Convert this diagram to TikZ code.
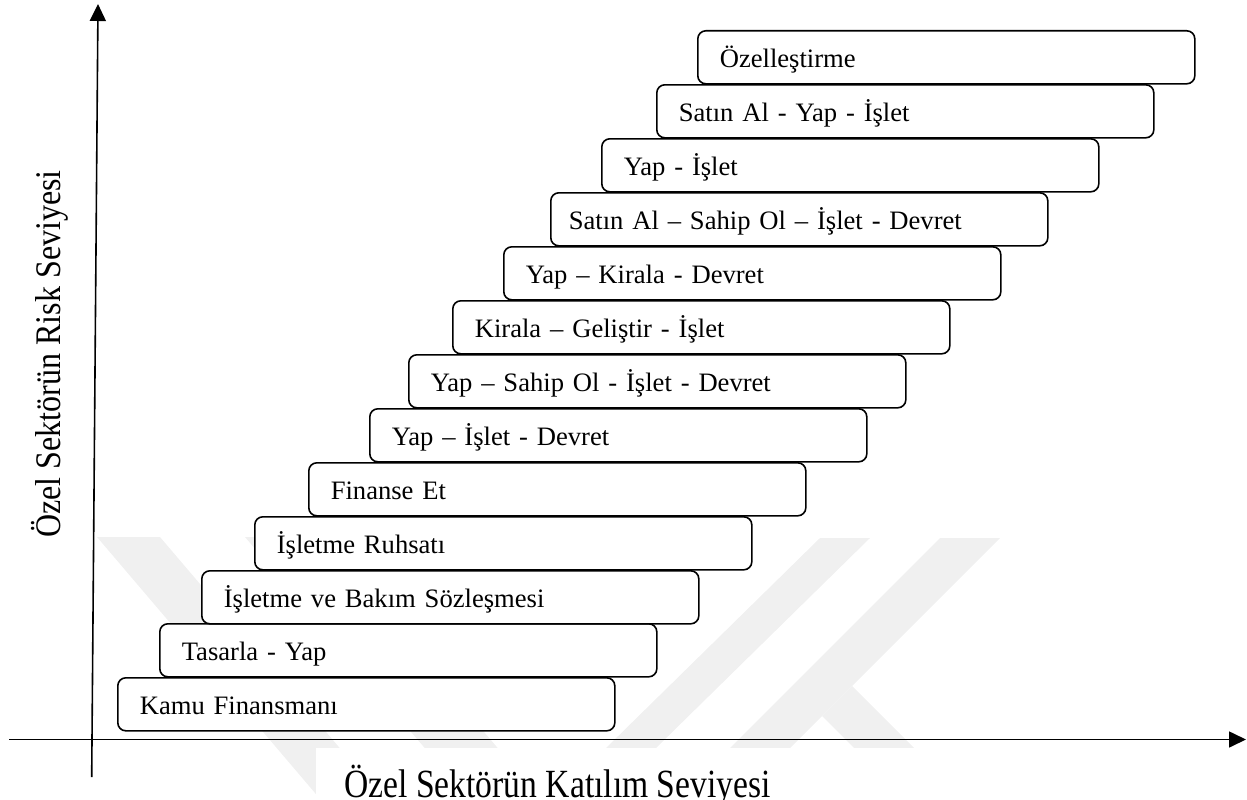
\documentclass[tikz,border=0pt]{standalone}
\usepackage{fontspec}
\setmainfont{Liberation Serif}
\usepackage{graphicx}
\usetikzlibrary{arrows.meta}
\begin{document}
\begin{tikzpicture}[x=1pt,y=-1pt,
  stepbox/.style={draw, line width=1.6pt, rounded corners=8pt, fill=white,
    anchor=north west, minimum width=497pt, minimum height=53pt,
    text width=453pt, inner xsep=22pt, inner ysep=0pt, align=left,
    text height=25pt, text depth=5pt, font=\fontsize{26.6}{30}\selectfont},
  axisline/.style={line width=1.6pt, -{Triangle[length=17pt,width=16pt]}},
  wm/.style={fill=black!6, draw=none}]
\useasboundingbox (0,0) rectangle (1247,800);
% faint watermark
\fill[wm] (97,537) -- (160,537) -- (384,800) -- (321,800) -- cycle;
\fill[wm] (245,537) -- (318,537) -- (542,800) -- (469,800) -- cycle;
\fill[wm] (820,538) -- (870,538) -- (656,748) -- (606,748) -- cycle;
\fill[wm] (940,538) -- (1000,538) -- (790,748) -- (730,748) -- cycle;
\fill[wm] (822,716) -- (852,686) -- (914,748) -- (854,748) -- cycle;
\fill[white] (316,748) rectangle (1247,800);
% boxes
\node[stepbox] (b1)  at (117,677) {Kamu Finansmanı};
\node[stepbox] (b2)  at (159,623) {Tasarla - Yap};
\node[stepbox] (b3)  at (201,570) {İşletme ve Bakım Sözleşmesi};
\node[stepbox] (b4)  at (254,516) {İşletme Ruhsatı};
\node[stepbox] (b5)  at (308,462) {Finanse Et};
\node[stepbox] (b6)  at (369,408) {Yap – İşlet - Devret};
\node[stepbox] (b7)  at (408,354) {Yap – Sahip Ol - İşlet - Devret};
\node[stepbox] (b8)  at (452,300) {Kirala – Geliştir - İşlet};
\node[stepbox] (b9)  at (503,246) {Yap – Kirala - Devret};
\node[stepbox, inner xsep=18pt, text width=461pt] (b10) at (550,192) {Satın Al – Sahip Ol – İşlet - Devret};
\node[stepbox] (b11) at (601,138) {Yap - İşlet};
\node[stepbox] (b12) at (656,84)  {Satın Al - Yap - İşlet};
\node[stepbox] (b13) at (697,30)  {Özelleştirme};
% axes
\coordinate (yb) at (91.7,777);
\coordinate (yt) at (98,4);
\coordinate (xl) at (9,739.5);
\coordinate (xr) at (1246,739.5);
\draw[axisline] (yb) -- (yt);
\draw[axisline] (xl) -- (xr);
% axis labels
\node[rotate=90, anchor=base, inner sep=0pt, font=\fontsize{36}{40}\selectfont] (ylab) at (60,354)
  {\scalebox{0.89}[1]{Özel Sektörün Risk Seviyesi}};
\node[anchor=base, inner sep=0pt, font=\fontsize{40}{44}\selectfont] (xlab) at (557.5,797)
  {\scalebox{0.84}[1]{Özel Sektörün Katılım Seviyesi}};
\end{tikzpicture}
\end{document}
